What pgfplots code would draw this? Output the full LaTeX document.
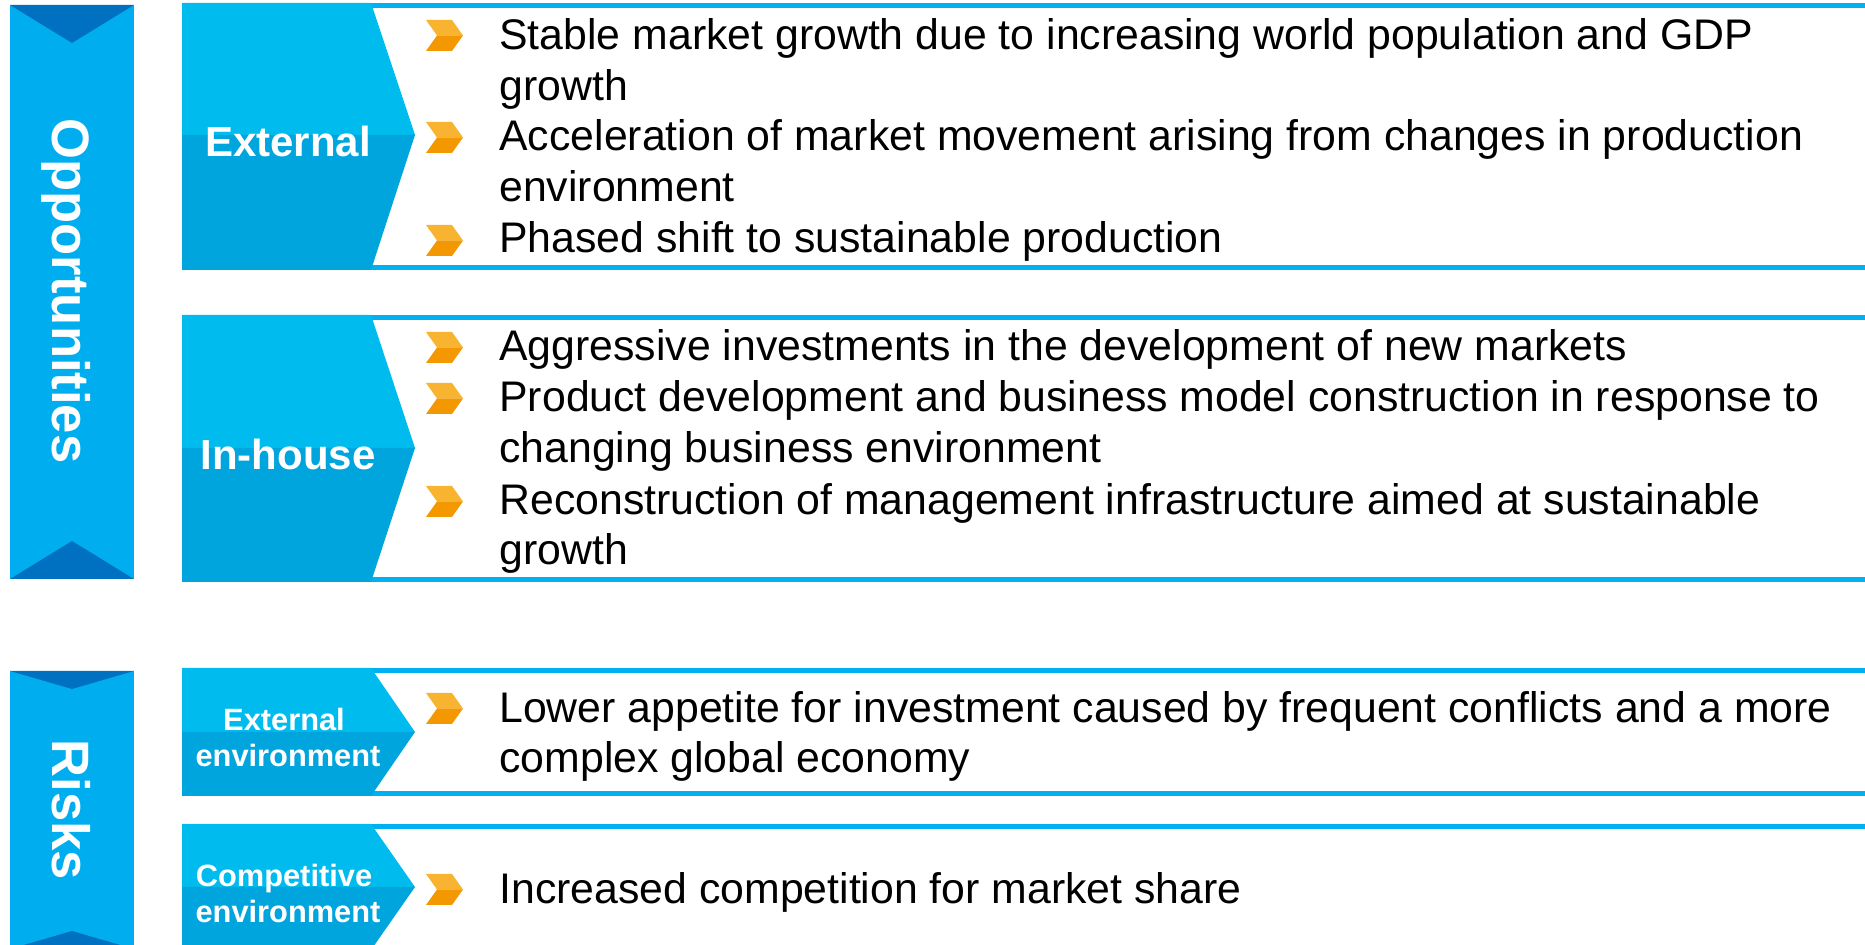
\documentclass[border=0pt]{standalone}
\usepackage{fontspec}
\setmainfont{Liberation Sans}
\usepackage{pgfplots}
\pgfplotsset{compat=1.18}

\definecolor{strip}{HTML}{00AEEF}
\definecolor{notch}{HTML}{0070C0}
\definecolor{lbltop}{HTML}{00BCEE}
\definecolor{lblbot}{HTML}{00A5DE}
\definecolor{rulec}{HTML}{00B0F0}
\definecolor{orA}{HTML}{F8B431}
\definecolor{orB}{HTML}{F39800}

% orange chevron bullet: top, middle, bottom (pixels, y downwards)
\newcommand{\bul}[3]{%
  \addplot[fill=orA, draw=none] coordinates {(426,#1)(452,#1)(463,#2)(437,#2)};
  \addplot[fill=orB, draw=none] coordinates {(437,#2)(463,#2)(452,#3)(426,#3)};
}
% label box: top, tip y, bottom, rule top y, rule bottom y
\newcommand{\lbox}[5]{%
  \addplot[rulec, line width=2.5pt] coordinates {(184,#4)(1870,#4)};
  \addplot[rulec, line width=2.5pt] coordinates {(184,#5)(1870,#5)};
  \addplot[fill=lbltop, draw=none] coordinates {(182,#1)(371,#1)(415,#2)(182,#2)};
  \addplot[fill=lblbot, draw=none] coordinates {(182,#2)(415,#2)(371,#3)(182,#3)};
}
\newcommand{\txt}{\fontsize{21.4}{25}\selectfont}
\tikzset{item/.style={anchor=base west, inner sep=0pt, font=\txt}}

\begin{document}
\begin{tikzpicture}
\begin{axis}[
  width=932.5pt, height=472.5pt, scale only axis,
  xmin=0, xmax=1865, ymin=0, ymax=945, y dir=reverse,
  hide axis, clip=true,
]
\addplot[draw=none] coordinates {(0,0)(1865,945)};

% left strips
\addplot[fill=strip, draw=none] coordinates {(10,5)(134,5)(134,579)(10,579)};
\addplot[fill=notch, draw=none] coordinates {(10,5)(134,5)(72,43)};
\addplot[fill=notch, draw=none] coordinates {(10,579)(72,541)(134,579)};
\addplot[fill=strip, draw=none] coordinates {(10,671)(134,671)(134,960)(10,960)};
\addplot[fill=notch, draw=none] coordinates {(10,671)(134,671)(72,689)};
\addplot[fill=notch, draw=none] coordinates {(10,949)(72,931)(134,949)};

% label boxes
\lbox{3}{135}{270}{5.5}{267.5}
\lbox{315}{448}{582}{317.5}{579.5}
\lbox{668}{732}{796}{670.5}{793.5}
\lbox{824}{887}{950}{826.5}{948}

% bullets
\bul{20}{35.5}{51}
\bul{122}{137.5}{153}
\bul{225}{240.5}{256}
\bul{332}{347.5}{363}
\bul{383}{398.5}{414}
\bul{486}{501.5}{517}
\bul{693}{708.5}{724}
\bul{874}{889.5}{905}

% side titles
\node[rotate=-90, anchor=base, text=white, font=\fontsize{26.3}{30}\selectfont\bfseries] at (axis cs:52,291) {Opportunities};
\node[rotate=-90, anchor=base, text=white, font=\fontsize{26.3}{30}\selectfont\bfseries] at (axis cs:52,810) {Risks};

% box labels
\node[anchor=base, text=white, font=\fontsize{21}{24}\selectfont\bfseries] at (axis cs:288,157) {External};
\node[anchor=base, text=white, font=\fontsize{21}{24}\selectfont\bfseries] at (axis cs:288,470) {In-house};
\node[anchor=base, text=white, font=\fontsize{15.4}{18}\selectfont\bfseries] at (axis cs:284,731) {External};
\node[anchor=base, text=white, font=\fontsize{15.4}{18}\selectfont\bfseries] at (axis cs:288,767) {environment};
\node[anchor=base, text=white, font=\fontsize{15.4}{18}\selectfont\bfseries] at (axis cs:284,887) {Competitive};
\node[anchor=base, text=white, font=\fontsize{15.4}{18}\selectfont\bfseries] at (axis cs:288,923) {environment};

% item texts
\node[item] at (axis cs:499,50) {Stable market growth due to increasing world population and GDP};
\node[item] at (axis cs:499,100.5) {growth};
\node[item] at (axis cs:499,151) {Acceleration of market movement arising from changes in production};
\node[item] at (axis cs:499,201.5) {environment};
\node[item] at (axis cs:499,253) {Phased shift to sustainable production};
\node[item] at (axis cs:499,361) {Aggressive investments in the development of new markets};
\node[item] at (axis cs:499,412) {Product development and business model construction in response to};
\node[item] at (axis cs:499,463) {changing business environment};
\node[item] at (axis cs:499,515) {Reconstruction of management infrastructure aimed at sustainable};
\node[item] at (axis cs:499,565) {growth};
\node[item] at (axis cs:499,723) {Lower appetite for investment caused by frequent conflicts and a more};
\node[item] at (axis cs:499,773) {complex global economy};
\node[item] at (axis cs:499,904) {Increased competition for market share};
\end{axis}
\end{tikzpicture}
\end{document}
